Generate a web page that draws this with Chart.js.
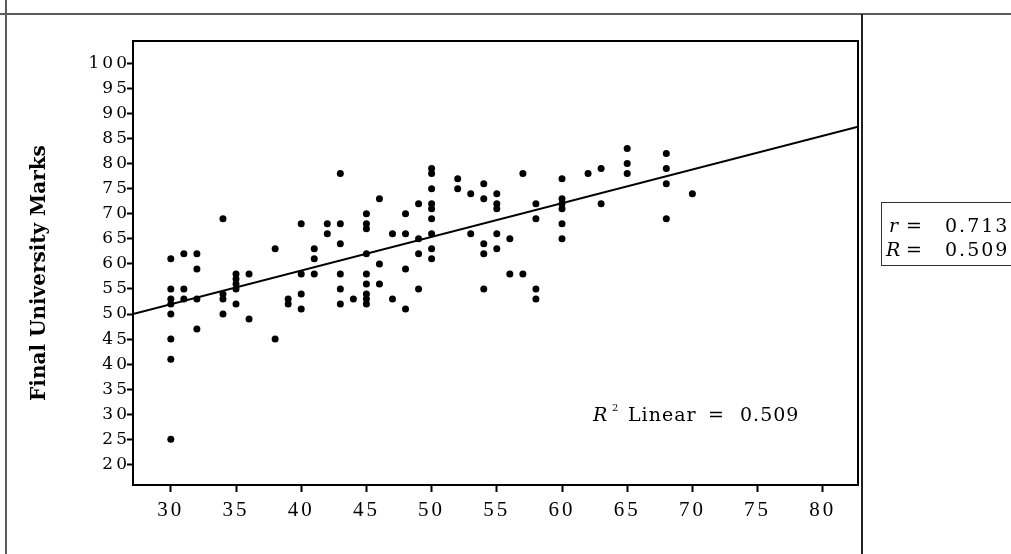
<!DOCTYPE html>
<html>
<head>
<meta charset="utf-8">
<script src="https://cdn.jsdelivr.net/npm/chart.js@4.4.1/dist/chart.umd.min.js"></script>
<style>
html,body{margin:0;padding:0;background:#fff;}
#wrap{position:relative;width:1011px;height:554px;}
</style>
</head>
<body>
<div id="wrap"><canvas id="c" width="1011" height="554"></canvas></div>
<script>
// ---- data ----
const xTickValues = [30, 35, 40, 45, 50, 55, 60, 65, 70, 75, 80];
const yTickValues = [20, 25, 30, 35, 40, 45, 50, 55, 60, 65, 70, 75, 80, 85, 90, 95, 100];
const yAxisTitle = "Final University Marks";

const entryScores = [
  30,30,30,30,30,30,30,30,
  31,31,31,
  32,32,32,32,
  34,34,34,34,
  35,35,35,35,35,
  36,36,
  38,38,
  39,39,
  40,40,40,40,
  41,41,41,
  42,42,
  43,43,43,43,43,43,
  44,
  45,45,45,45,45,45,45,45,45,
  46,46,46,
  47,47,
  48,48,48,48,
  49,49,49,49,
  50,50,50,50,50,50,50,50,50,
  52,52,
  53,53,
  54,54,54,54,54,
  55,55,55,55,55,
  56,56,
  57,57,
  58,58,58,58,
  60,60,60,60,60,60,
  62,
  63,63,
  65,65,65,
  68,68,68,68,
  70
];
const finalMarks = [
  61,55,53,52,50,45,41,25,
  62,55,53,
  62,59,53,47,
  69,54,53,50,
  58,57,56,55,52,
  58,49,
  63,45,
  53,52,
  68,58,54,51,
  63,61,58,
  68,66,
  78,68,64,58,55,52,
  53,
  70,68,67,62,58,56,54,53,52,
  73,60,56,
  66,53,
  70,66,59,51,
  72,65,62,55,
  79,78,75,72,71,69,66,63,61,
  77,75,
  74,66,
  76,73,64,62,55,
  74,72,71,66,63,
  65,58,
  78,58,
  72,69,55,53,
  77,73,72,71,68,65,
  78,
  79,72,
  83,80,78,
  82,79,76,69,
  74
];
// fit line end points
const fitX = [27.1, 82.7];
const fitY = [50.0, 87.35];
const fitLabel = { r2: "0.509" };
const statsLabel = { r: "0.713", R: "0.509" };

// ---- build ----
const scatterPts = entryScores.map((x, i) => ({ x: x, y: finalMarks[i] }));
const fitPts = fitX.map((x, i) => ({ x: x, y: fitY[i] }));

const decor = {
  id: 'decor',
  beforeDraw(chart) {
    const c = chart.ctx;
    c.save();
    c.letterSpacing = '0px';
    c.fillStyle = '#fff';
    c.fillRect(0, 0, chart.width, chart.height);
    c.strokeStyle = '#5c5c5c';
    c.lineWidth = 2;
    c.beginPath();
    c.moveTo(0, 14); c.lineTo(chart.width, 14);
    c.moveTo(6, 0); c.lineTo(6, chart.height);
    c.stroke();
    c.strokeStyle = '#222';
    c.beginPath();
    c.moveTo(862, 14); c.lineTo(862, chart.height);
    c.stroke();
    c.restore();
    c.letterSpacing = '3px';
  },
  afterDraw(chart) {
    const c = chart.ctx;
    const a = chart.chartArea;
    c.save();
    c.letterSpacing = '0px';
    c.strokeStyle = '#000';
    c.lineWidth = 2;
    c.strokeRect(a.left, a.top, a.right - a.left, a.bottom - a.top);

    // y axis title
    c.save();
    c.translate(40, 273);
    c.rotate(-Math.PI / 2);
    c.fillStyle = '#000';
    c.font = 'bold 20px "DejaVu Serif"';
    c.textAlign = 'center';
    c.textBaseline = 'middle';
    c.fillText(yAxisTitle, 0, 0);
    c.restore();

    // R^2 Linear annotation
    c.fillStyle = '#000';
    c.textBaseline = 'alphabetic';
    c.textAlign = 'left';
    c.letterSpacing = '1px';
    c.font = 'italic 19px "DejaVu Serif"';
    c.fillText('R', 593, 421);
    c.font = '10px "DejaVu Serif"';
    c.fillText('2', 612, 411);
    c.font = '19px "DejaVu Serif"';
    c.fillText('Linear', 628, 421);
    c.fillText('=', 708, 421);
    c.fillText(fitLabel.r2, 740, 421);

    // r / R box
    c.lineWidth = 1;
    c.strokeStyle = '#333';
    c.strokeRect(881.5, 202.5, 140, 63);
    c.letterSpacing = '2px';
    c.font = 'italic 19px "DejaVu Serif"';
    c.fillText('r', 889, 232);
    c.fillText('R', 886, 256);
    c.font = '19px "DejaVu Serif"';
    c.fillText('=', 906, 232);
    c.fillText('=', 906, 256);
    c.fillText(statsLabel.r, 945, 232);
    c.fillText(statsLabel.R, 945, 256);
    c.restore();
  }
};

const ctx = document.getElementById('c').getContext('2d');
new Chart(ctx, {
  type: 'scatter',
  data: {
    datasets: [
      {
        type: 'line',
        data: fitPts,
        borderColor: '#000',
        borderWidth: 2,
        pointRadius: 0,
        fill: false,
        tension: 0
      },
      {
        data: scatterPts,
        backgroundColor: '#000',
        borderColor: '#000',
        borderWidth: 0,
        pointRadius: 3.5,
        pointStyle: 'circle'
      }
    ]
  },
  options: {
    responsive: false,
    animation: false,
    events: [],
    layout: { padding: { top: 41, right: 153, bottom: 0, left: 0 } },
    plugins: { legend: { display: false }, tooltip: { enabled: false } },
    scales: {
      x: {
        type: 'linear',
        min: 27.1,
        max: 82.7,
        afterFit(s) { s.height = 69; },
        afterBuildTicks(s) { s.ticks = xTickValues.map(v => ({ value: v })); },
        border: { display: false },
        grid: { drawOnChartArea: false, drawTicks: true, tickLength: 7, tickWidth: 2, tickColor: '#000' },
        ticks: {
          color: '#000',
          padding: 6,
          maxRotation: 0,
          autoSkip: false,
          font: { family: '"Liberation Serif"', size: 21 }
        }
      },
      y: {
        type: 'linear',
        min: 15.9,
        max: 104.45,
        afterFit(s) { s.width = 133; },
        afterBuildTicks(s) { s.ticks = yTickValues.map(v => ({ value: v })); },
        border: { display: false },
        grid: { drawOnChartArea: false, drawTicks: true, tickLength: 6, tickWidth: 2, tickColor: '#000' },
        ticks: {
          color: '#000',
          padding: -3,
          autoSkip: false,
          font: { family: '"DejaVu Serif"', size: 17 }
        }
      }
    }
  },
  plugins: [decor]
});
</script>
</body>
</html>
